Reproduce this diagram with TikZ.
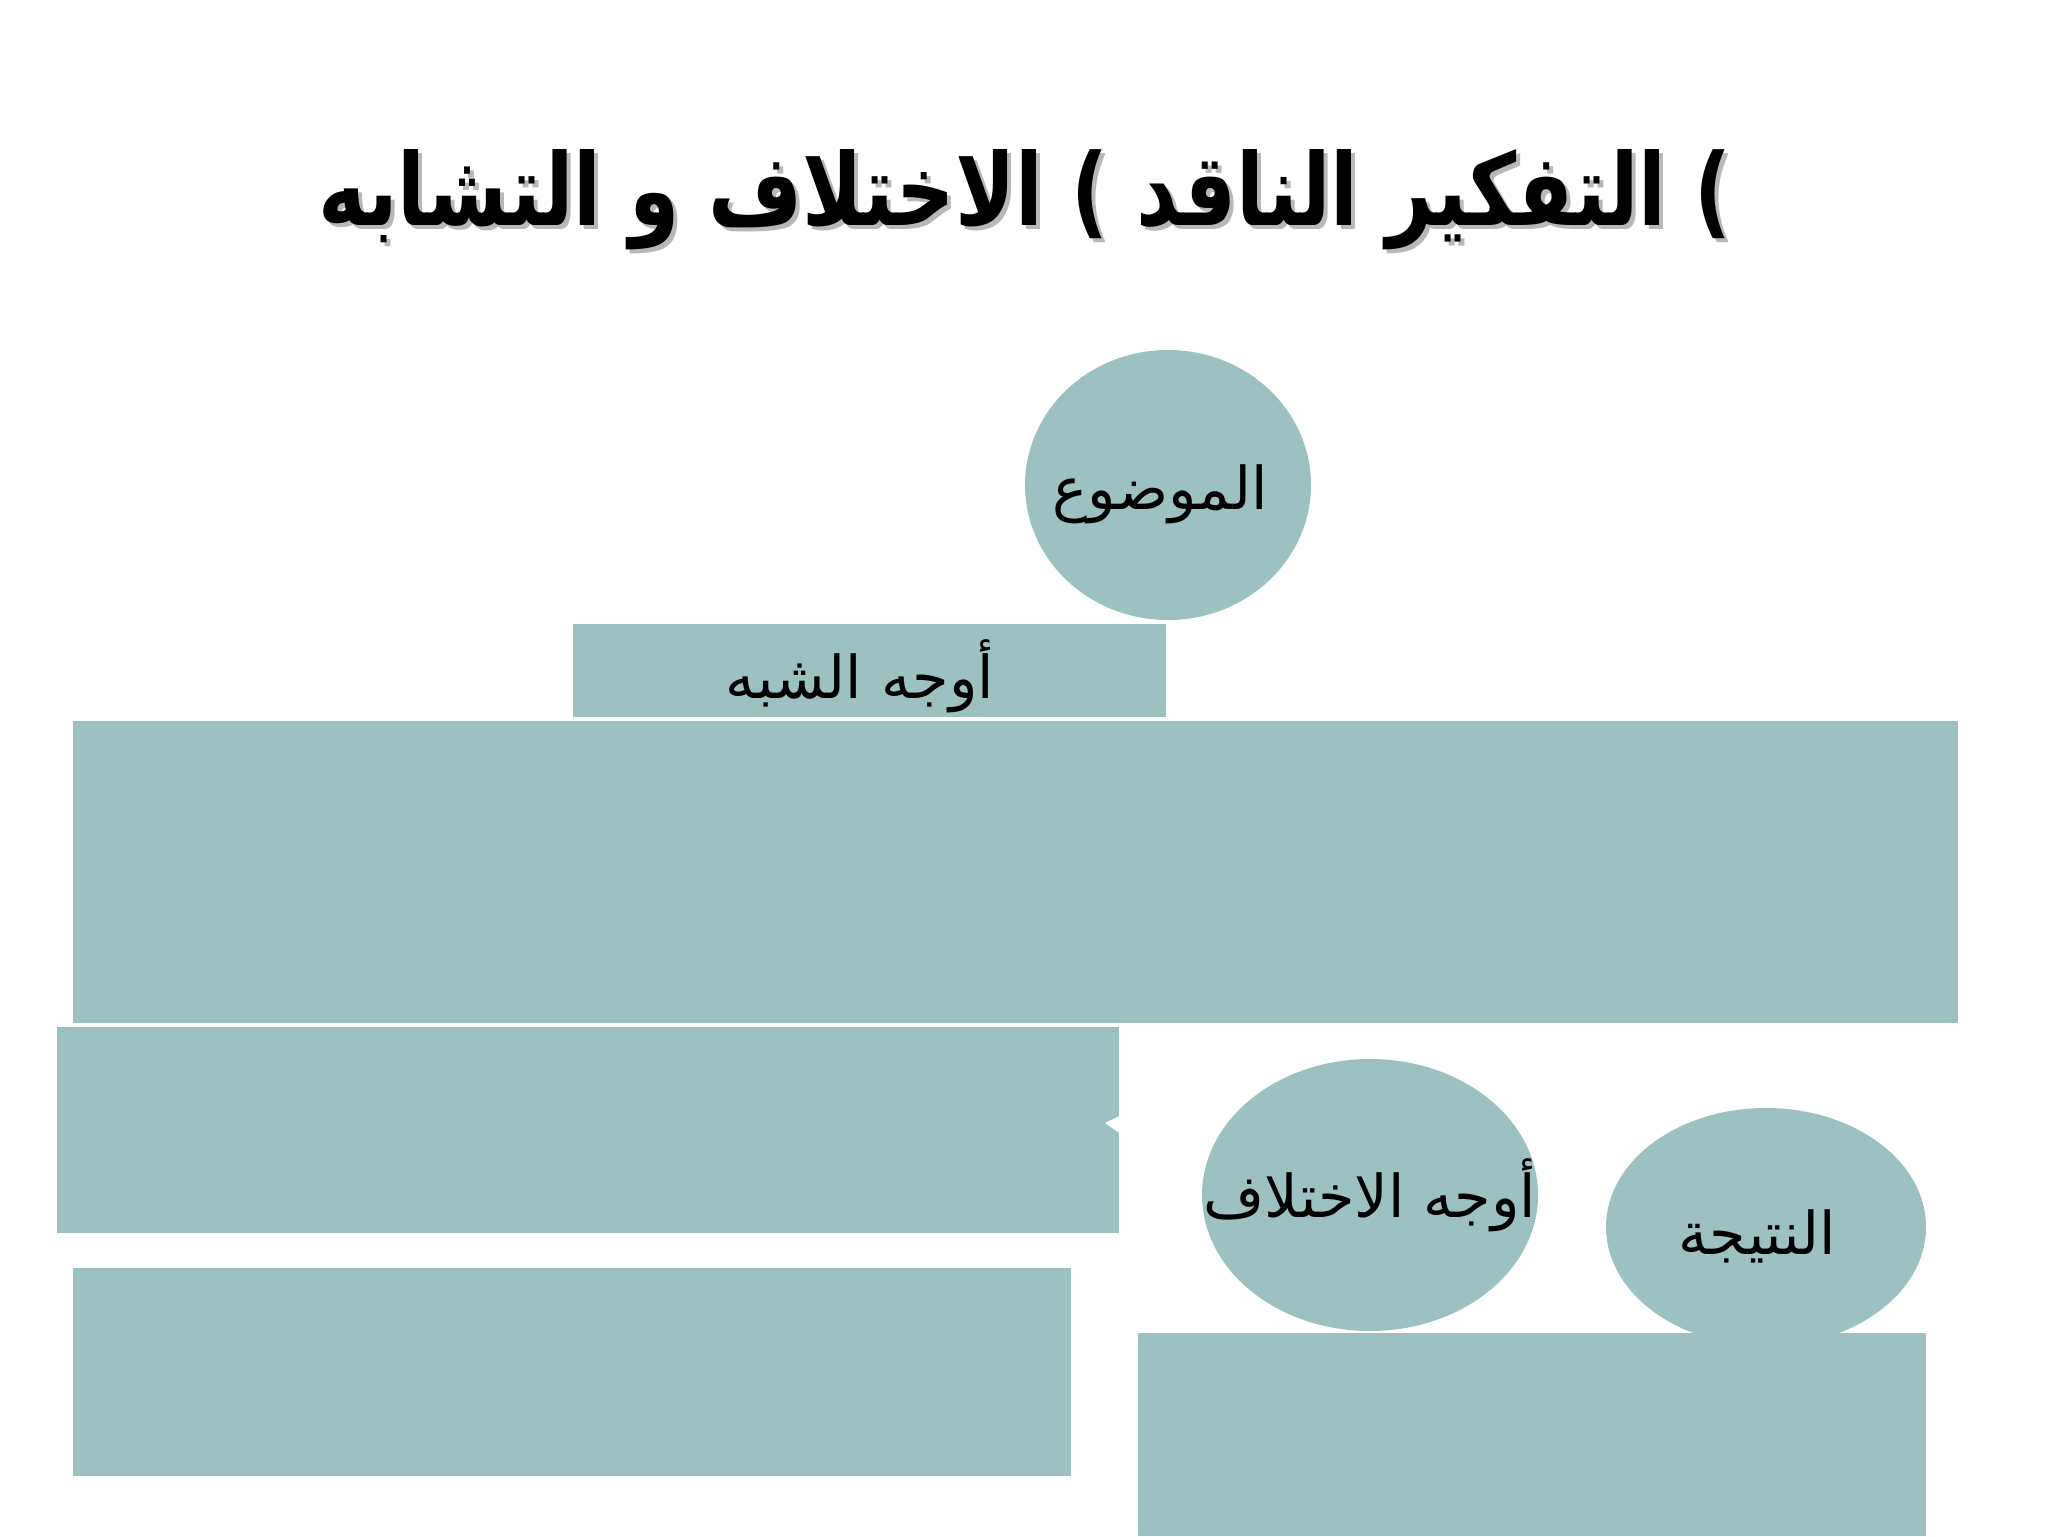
\documentclass[tikz,border=0pt]{standalone}
\usepackage{fontspec}
\usepackage{graphicx}
\usetikzlibrary{shapes.geometric}
\TeXXeTstate=1
\newfontfamily\arabicfont[Script=Arabic]{DejaVu Sans}
\newfontfamily\arabicbold[Script=Arabic]{DejaVu Sans Bold}
\definecolor{teal1}{HTML}{9CC1C0}
\definecolor{shadowgray}{HTML}{B8B8B8}
\newcommand{\titletext}{\scalebox{0.81}[1]{\beginR ) التفكير الناقد ) الاختلاف و التشابه\endR}}
\tikzset{
  boxshape/.style={rectangle, fill=teal1, draw=none, inner sep=0pt, outer sep=0pt},
  ovalshape/.style={ellipse, fill=teal1, draw=none, inner sep=0pt, outer sep=0pt},
  lbl/.style={font=\arabicfont\fontsize{29.5}{36}\selectfont, text=black, inner sep=0pt},
  ttl/.style={font=\arabicbold\fontsize{50}{60}\selectfont, inner sep=0pt}
}
\begin{document}
\begin{tikzpicture}[x=0.5pt,y=-0.5pt]
\useasboundingbox[fill=white] (0,0) rectangle (2048,1536);
% title
\node[ttl, text=shadowgray] (titleshadow) at (1029,204) {\titletext};
\node[ttl, text=black] (title) at (1025,200) {\titletext};
% shapes
\node[ovalshape, minimum width=143pt, minimum height=135pt] (mawdu) at (1168,485) {};
\node[boxshape, minimum width=296.5pt, minimum height=46.5pt] (shebh) at (869.5,670.5) {};
\node[boxshape, minimum width=942.5pt, minimum height=151pt] (big) at (1015.5,872) {};
\node[boxshape, minimum width=531pt, minimum height=103pt] (midleft) at (588,1130) {};
\node[boxshape, minimum width=499pt, minimum height=104pt] (botleft) at (572,1372) {};
\node[ovalshape, minimum width=168pt, minimum height=136pt] (ikhtilaf) at (1370,1195) {};
\node[ovalshape, minimum width=160pt, minimum height=119pt] (natija) at (1766,1227) {};
\node[boxshape, minimum width=394pt, minimum height=101.5pt] (botright) at (1532,1434.5) {};
\fill[white] (1105,1123) -- (1119.5,1116) -- (1119.5,1133) -- cycle;
% labels
\node[lbl] (mawdutxt) at (1160,494) {\beginR الموضوع\endR};
\node[lbl] (shebhtxt) at (860,676) {\beginR أوجه الشبه\endR};
\node[lbl] (ikhtilaftxt) at (1370,1195) {\beginR أوجه الاختلاف\endR};
\node[lbl] (natijatxt) at (1757,1236) {\beginR النتيجة\endR};
\end{tikzpicture}
\end{document}
